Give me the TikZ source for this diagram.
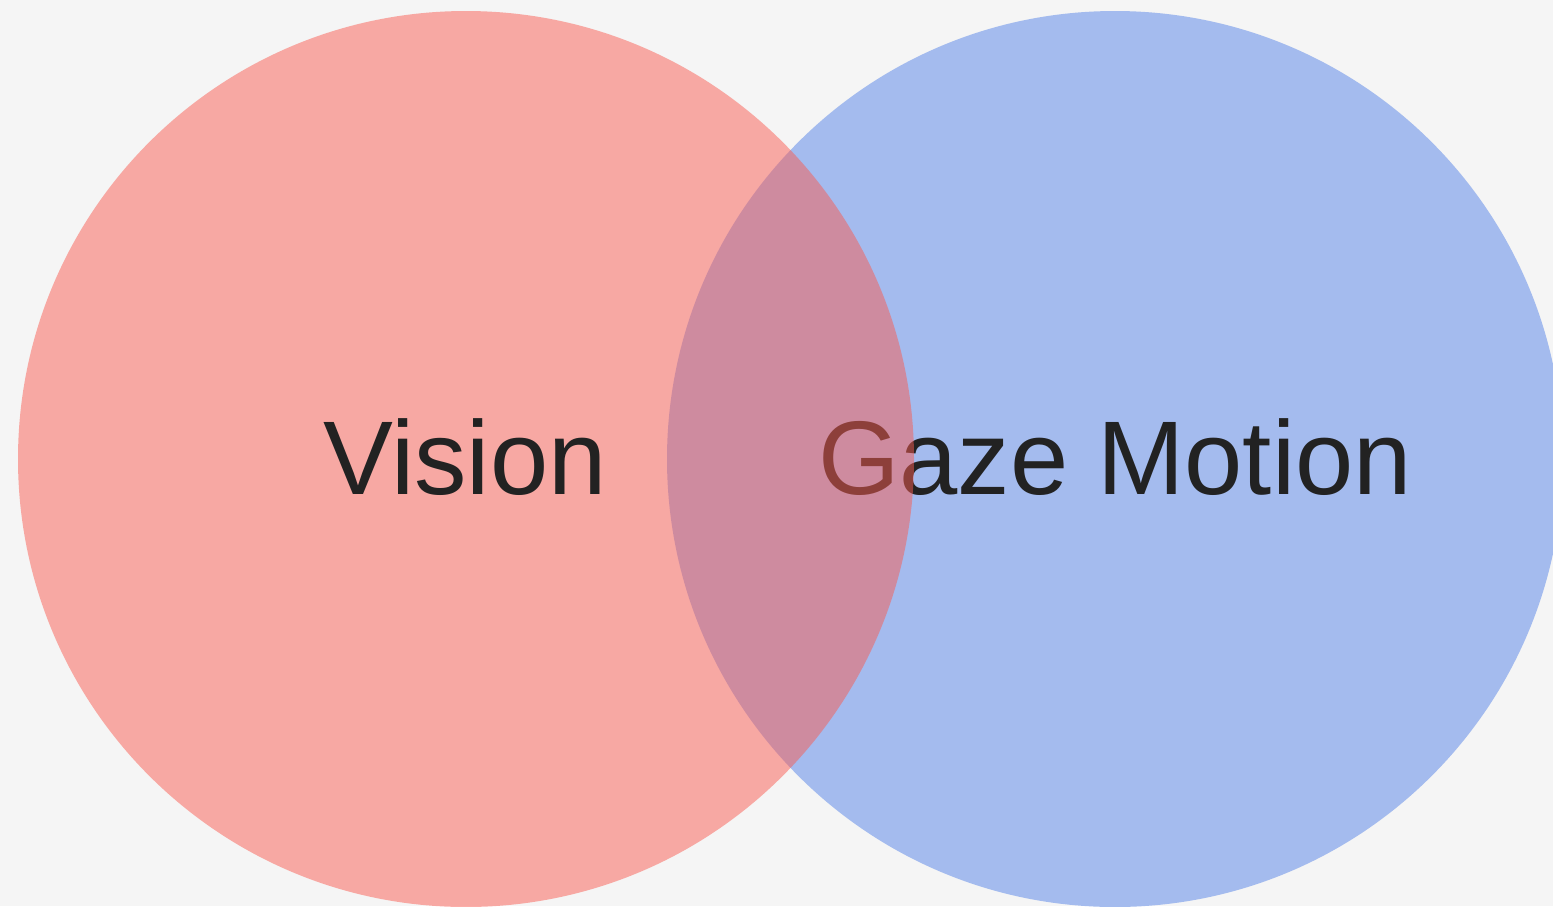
\documentclass[tikz,border=0pt]{standalone}
\usepackage{fontspec}
\setmainfont{Liberation Sans}
\usepackage{tikz}
\usetikzlibrary{positioning}
\usepackage{xcolor}
\definecolor{bggray}{HTML}{F5F5F5}
\definecolor{visred}{HTML}{F95C52}
\definecolor{gazeblue}{HTML}{A4BBEE}
\definecolor{inkdark}{HTML}{222222}

\begin{document}
\begin{tikzpicture}[x=1cm, y=1cm]
  \fill[bggray] (0,0) rectangle (15.53,-9.06);
  \useasboundingbox (0,0) rectangle (15.53,-9.06);
  \begin{scope}
    \clip (0,0) rectangle (15.53,-9.06);
    \fill[gazeblue] (11.15,-4.59) circle (4.48);
    \node[inkdark, anchor=base, font=\fontsize{29.8}{34}\selectfont, inner sep=0pt] (gaze) at (11.15,-4.94) {Gaze Motion};
    \fill[visred, opacity=0.5] (4.66,-4.59) circle (4.48);
    \node[inkdark, anchor=base, font=\fontsize{29.8}{34}\selectfont, inner sep=0pt] (vision) at (4.65,-4.94) {Vision};
  \end{scope}
\end{tikzpicture}
\end{document}
